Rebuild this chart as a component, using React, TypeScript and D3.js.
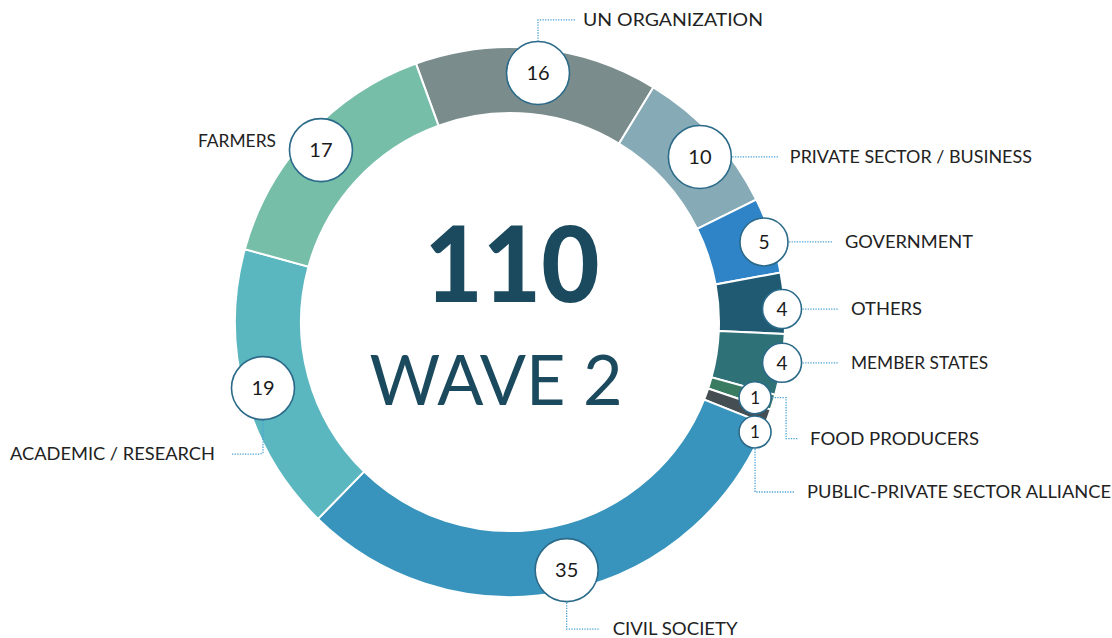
import React from "react";
import * as d3 from "d3";

// ---- data ----
const categories = [
  "UN ORGANIZATION",
  "PRIVATE SECTOR / BUSINESS",
  "GOVERNMENT",
  "OTHERS",
  "MEMBER STATES",
  "FOOD PRODUCERS",
  "PUBLIC-PRIVATE SECTOR ALLIANCE",
  "CIVIL SOCIETY",
  "ACADEMIC / RESEARCH",
  "FARMERS",
];
const values = [16, 10, 5, 4, 4, 1, 1, 35, 19, 17];
const totalLabel = "110";
const waveLabel = "WAVE 2";

// ---- styles / layout ----
const colors = [
  "#7a8c8c",
  "#86abb6",
  "#2f84c8",
  "#1f5a72",
  "#2e7278",
  "#3a7c62",
  "#454f53",
  "#3894bc",
  "#5ab6bf",
  "#76bea8",
];
// angular nudge (deg) and radial distance of each value bubble
const ballNudge = [0.7, 1.5, 0.9, 1.2, -0.4, 0.2, 4.0, -0.9, 0.2, -0.4];
const ballDist = [250.6, 251.6, 266.3, 272.3, 275.1, 256.5, 268.6, 254.5, 255.7, 255.5];
// label offsets relative to bubble centre, anchor, and leader type
const labelDx = [45, 90, 81, 69, 69, 55, 52, 46, -48, -45];
const labelDy = [-53, 0, 0, 0, 0, 41, 60, 59, 66, -9];
const labelAnchor = ["start", "start", "start", "start", "start", "start", "start", "start", "end", "end"];
const leaderType = ["up", "right", "right", "right", "right", "rdr", "dr", "dr", "dl", "none"];
const labelWidth = [180, 242, 128, 71, 137, 169, 304, 125, 205, 78];

const W = 1112;
const H = 638;
const CX = 510;
const CY = 322;
const R_OUT = 275;
const R_IN = 209;
const START = (-20 * Math.PI) / 180;

const ballR = d3.scaleLinear().domain([1, 4, 5, 10]).range([16, 19.5, 24, 31.5]).clamp(true);
const ballFont = d3.scaleLinear().domain([1, 4, 10]).range([17, 19, 20]).clamp(true);

export default function App() {
  const pie = d3
    .pie<number>()
    .sort(null)
    .value((d) => d)
    .startAngle(START)
    .endAngle(START + 2 * Math.PI);
  const arcs = pie(values);
  const arcGen = d3.arc<d3.PieArcDatum<number>>().innerRadius(R_IN).outerRadius(R_OUT);

  const balls = arcs.map((a, i) => {
    const mid = (a.startAngle + a.endAngle) / 2 + (ballNudge[i] * Math.PI) / 180;
    const r = ballDist[i];
    const x = CX + r * Math.sin(mid);
    const y = CY - r * Math.cos(mid);
    return { x, y, r: ballR(values[i]) };
  });

  const leader = (i: number) => {
    const b = balls[i];
    const lx = b.x + labelDx[i];
    const ly = b.y + labelDy[i];
    switch (leaderType[i]) {
      case "up":
        return `M${b.x},${b.y - b.r}V${ly}H${lx - 8}`;
      case "right":
        return `M${b.x + b.r + 1},${b.y}H${lx - 12}`;
      case "rdr":
        return `M${b.x + b.r + 1},${b.y}H${b.x + 31}V${ly}H${lx - 12}`;
      case "dr":
        return `M${b.x},${b.y + b.r + 1}V${ly}H${lx - 13}`;
      case "dl":
        return `M${b.x},${b.y + b.r + 1}V${ly - 1}L${b.x - 3},${ly}H${lx + 17}`;
      default:
        return null;
    }
  };

  return (
    <svg
      width={W}
      height={H}
      viewBox={`0 0 ${W} ${H}`}
      style={{ position: "absolute", left: 0, top: 0, background: "#fff" }}
    >
      <rect width={W} height={H} fill="#fff" />
      <g transform={`translate(${CX},${CY})`}>
        {arcs.map((a, i) => (
          <path key={i} d={arcGen(a) || ""} fill={colors[i]} stroke="#fff" strokeWidth={2} />
        ))}
      </g>

      {/* leader lines */}
      {categories.map((c, i) => {
        const d = leader(i);
        return d ? (
          <path
            key={"l" + i}
            d={d}
            fill="none"
            stroke="#4aa3d6"
            strokeWidth={1.3}
            strokeDasharray="1.3 1.3"
          />
        ) : null;
      })}

      {/* bubbles */}
      {balls.map((b, i) => (
        <g key={"b" + i}>
          <circle cx={b.x} cy={b.y} r={b.r} fill="#fff" stroke="#2b6a89" strokeWidth={1.6} />
          <text
            x={b.x}
            y={b.y}
            dy="0.36em"
            textAnchor="middle"
            fontFamily="Lato, 'Noto Sans', sans-serif"
            fontSize={ballFont(values[i])}
            fill="#1a1a1a"
          >
            {values[i]}
          </text>
        </g>
      ))}

      {/* category labels */}
      {categories.map((c, i) => {
        const b = balls[i];
        const lx = b.x + labelDx[i];
        const ly = b.y + labelDy[i];
        return (
          <text
            key={"t" + i}
            x={lx}
            y={ly}
            dy="0.36em"
            textAnchor={labelAnchor[i] as any}
            fontFamily="Lato, 'Noto Sans', sans-serif"
            fontSize={17}
            fill="#222"
            textLength={labelWidth[i]}
            lengthAdjust="spacingAndGlyphs"
          >
            {c}
          </text>
        );
      })}

      {/* centre */}
      <text
        x={512}
        y={302}
        textAnchor="middle"
        fontFamily="Lato, 'Noto Sans', sans-serif"
        fontWeight={900}
        fontSize={104}
        fill="#1b4a5e"
        textLength={175}
        lengthAdjust="spacingAndGlyphs"
      >
        {totalLabel}
      </text>
      <text
        x={496}
        y={405}
        textAnchor="middle"
        fontFamily="Lato, 'Noto Sans', sans-serif"
        fontWeight={400}
        fontSize={70}
        fill="#1b4a5e"
        textLength={253}
        lengthAdjust="spacingAndGlyphs"
      >
        {waveLabel}
      </text>
    </svg>
  );
}
